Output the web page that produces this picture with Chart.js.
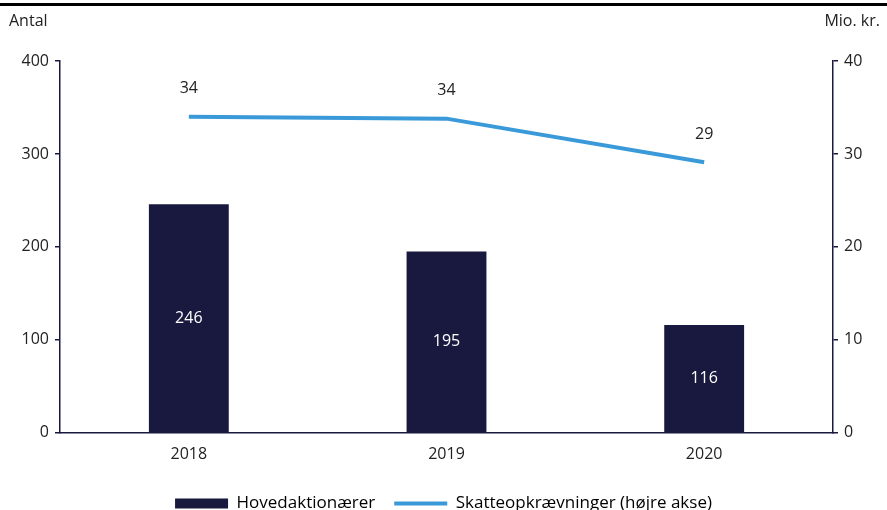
<!DOCTYPE html>
<html>
<head>
<meta charset="utf-8">
<script src="https://cdn.jsdelivr.net/npm/chart.js@4"></script>
<style>
  html, body { margin: 0; padding: 0; background: #fff; }
  #wrap { width: 887px; height: 510px; position: relative; }
</style>
</head>
<body>
<div id="wrap"><canvas id="myChart" width="887" height="510"></canvas></div>
<script>
const years = ['2018', '2019', '2020'];
const hovedaktionaerer = [246, 195, 116];
const skatteopkraevninger = [34, 33.8, 29.1];
const leftTicks = [0, 100, 200, 300, 400];
const rightTicks = [0, 10, 20, 30, 40];

const navy = '#19193f';
const blue = '#3a9ad9';
const FONT = "'Open Sans', sans-serif";

Chart.defaults.font.family = FONT;
Chart.defaults.font.size = 16;
Chart.defaults.color = '#222';

// top rule + axis titles + value labels
const extras = {
    id: 'extras',
    afterDraw(chart) {
        const { ctx } = chart;
        ctx.save();
        ctx.fillStyle = '#000';
        ctx.fillRect(0, 3, chart.width, 3);
        ctx.font = '16px ' + FONT;
        ctx.fillStyle = '#222';
        ctx.textBaseline = 'middle';
        ctx.textAlign = 'left';
        ctx.fillText('Antal', 9, 21);
        ctx.textAlign = 'right';
        ctx.fillText('Mio. kr.', 880, 21);

        ctx.textAlign = 'center';
        chart.getDatasetMeta(0).data.forEach((bar, i) => {
            ctx.fillStyle = '#fff';
            ctx.fillText(hovedaktionaerer[i], bar.x, (bar.y + bar.base) / 2);
        });
        chart.getDatasetMeta(1).data.forEach((pt, i) => {
            ctx.fillStyle = '#222';
            ctx.fillText(Math.round(skatteopkraevninger[i]), pt.x, pt.y - 28);
        });
        ctx.restore();
    }
};

new Chart(document.getElementById('myChart'), {
    data: {
        labels: years,
        datasets: [{
            type: 'bar',
            label: 'Hovedaktionærer',
            data: hovedaktionaerer,
            backgroundColor: navy,
            yAxisID: 'y',
            barPercentage: 1,
            categoryPercentage: 0.31,
            order: 2
        }, {
            type: 'line',
            label: 'Skatteopkrævninger (højre akse)',
            data: skatteopkraevninger,
            borderColor: blue,
            backgroundColor: blue,
            borderWidth: 4,
            pointRadius: 0,
            tension: 0,
            yAxisID: 'y1',
            order: 1
        }]
    },
    options: {
        responsive: false,
        animation: false,
        layout: { padding: { top: 61, bottom: -12, left: 0, right: 0 } },
        plugins: {
            tooltip: { enabled: false },
            legend: {
                position: 'bottom',
                labels: {
                    usePointStyle: true,
                    pointStyleWidth: 53,
                    boxHeight: 10,
                    padding: 19,
                    color: '#222',
                    font: { size: 17 },
                    generateLabels(chart) {
                        return chart.data.datasets.map((ds, i) => ({
                            text: ds.label,
                            fillStyle: i == 0 ? navy : blue,
                            strokeStyle: i == 0 ? navy : blue,
                            lineWidth: i == 0 ? 0 : 4,
                            pointStyle: i == 0 ? 'rect' : 'line',
                            datasetIndex: i
                        }));
                    }
                }
            }
        },
        scales: {
            x: {
                grid: { display: false, drawTicks: false },
                border: { color: navy, width: 1.5 },
                ticks: { padding: 12, color: '#222' }
            },
            y: {
                position: 'left',
                min: 0, max: 400,
                afterBuildTicks: s => { s.ticks = leftTicks.map(v => ({ value: v })); },
                afterFit: s => { s.width = 60; },
                grid: { drawOnChartArea: false, tickLength: 5, color: navy, lineWidth: 1.5 },
                border: { color: navy, width: 1.5 },
                ticks: { padding: 6, color: '#222' }
            },
            y1: {
                position: 'right',
                min: 0, max: 40,
                afterBuildTicks: s => { s.ticks = rightTicks.map(v => ({ value: v })); },
                afterFit: s => { s.width = 54; },
                grid: { drawOnChartArea: false, tickLength: 5, color: navy, lineWidth: 1.5 },
                border: { color: navy, width: 1.5 },
                ticks: { padding: 6, color: '#222' }
            }
        }
    },
    plugins: [extras]
});
</script>
</body>
</html>
